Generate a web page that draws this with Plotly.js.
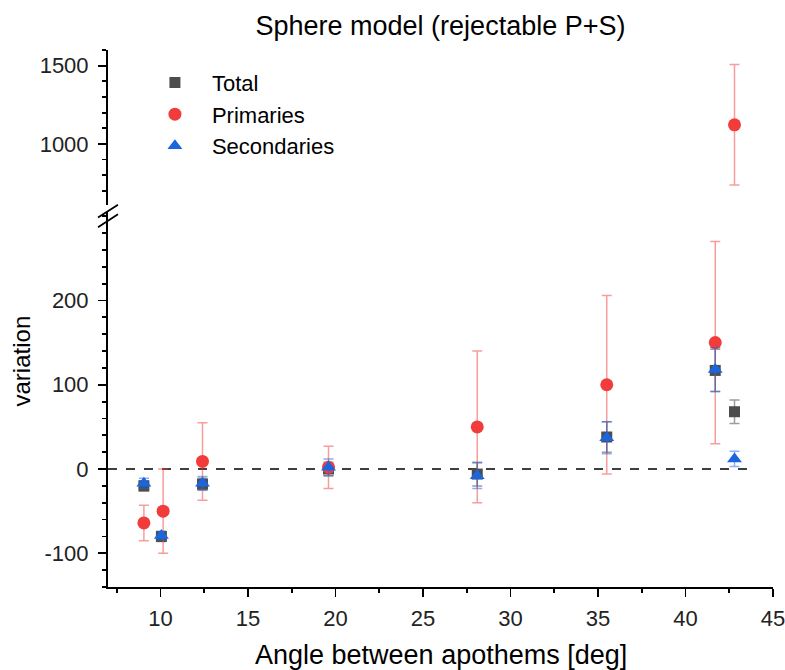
<!DOCTYPE html>
<html>
<head>
<meta charset="utf-8">
<script src="https://cdn.plot.ly/plotly-3.0.1.min.js"></script>
<style>html,body{margin:0;padding:0;background:#fff;}#chart{width:785px;height:670px;}</style>
</head>
<body>
<div id="chart"></div>
<script>
// Data
const angles        = [9.05, 10.05, 12.4, 19.6, 28.1, 35.5, 41.7, 42.8];
const anglesPrim    = [9.05, 10.15, 12.4, 19.6, 28.1, 35.5, 41.7, 42.8];
const totalVals     = [-20, -80, -18, 0, -6, 38, 117, 68];
const totalErr      = [6, 6, 7, 8, 14, 18, 25, 14];
const primVals      = [-64, -50, 9, 2, 50, 100, 150, 1122];
const primErr       = [21, 50, 46, 25, 90, 106, 120, 385];
const secVals       = [-17, -79, -17, 2, -8, 37, 118, 12];
const secErr        = [6, 5, 8, 10, 15, 19, 26, 9];
const xTickVals     = [10, 15, 20, 25, 30, 35, 40, 45];
const lowerTicks    = [-100, 0, 100, 200];
const upperTicks    = [1000, 1500];

const lowerRange = [-140, 305];
const upperRange = [610, 1600];

const FONT = 'Liberation Sans, Arial, sans-serif';
const cTotal = '#4d4d4d', cPrim = '#f23c3c', cSec = '#1a66de';

function split(xs, ys, es, upper) {
  const o = {x: [], y: [], e: []};
  ys.forEach((v, i) => {
    const isUp = v > lowerRange[1];
    if (isUp === upper) { o.x.push(xs[i]); o.y.push(v); o.e.push(es[i]); }
  });
  return o;
}

function tr(name, xs, ys, es, color, errColor, symbol, size, upper, showlegend) {
  const d = split(xs, ys, es, upper);
  return {
    type: 'scatter', mode: 'markers', name: name,
    x: d.x, y: d.y, yaxis: upper ? 'y2' : 'y',
    showlegend: showlegend,
    marker: {color: color, symbol: symbol, size: size, line: {width: 0}},
    error_y: {type: 'data', array: d.e, visible: true, color: errColor, thickness: 1.5, width: 5}
  };
}

const traces = [
  tr('Total', angles, totalVals, totalErr, cTotal, 'rgba(77,77,77,0.55)', 'square', 11, false, true),
  tr('Primaries', anglesPrim, primVals, primErr, cPrim, 'rgba(242,60,60,0.5)', 'circle', 13, false, true),
  tr('Secondaries', angles, secVals, secErr, cSec, 'rgba(26,102,222,0.5)', 'triangle-up', 13, false, true),
  tr('Total', angles, totalVals, totalErr, cTotal, 'rgba(77,77,77,0.55)', 'square', 11, true, false),
  tr('Primaries', anglesPrim, primVals, primErr, cPrim, 'rgba(242,60,60,0.5)', 'circle', 13, true, false),
  tr('Secondaries', angles, secVals, secErr, cSec, 'rgba(26,102,222,0.5)', 'triangle-up', 13, true, false)
];

const axisCommon = {
  showgrid: false, zeroline: false, showline: true, linecolor: '#000', linewidth: 2,
  ticks: 'outside', ticklen: 8, tickwidth: 1.8, tickcolor: '#000',
  tickfont: {family: FONT, size: 22, color: '#222'},
  ticklabeloverflow: 'allow'
};

const layout = {
  width: 785, height: 670,
  margin: {l: 108, r: 12, t: 50, b: 83},
  paper_bgcolor: '#fff', plot_bgcolor: '#fff',
  font: {family: FONT, color: '#000'},
  title: {text: 'Sphere model (rejectable P+S)', font: {family: FONT, size: 27, color: '#000'},
          xref: 'paper', x: 0.5, xanchor: 'center', yref: 'container', y: 0.962, yanchor: 'middle'},
  xaxis: Object.assign({}, axisCommon, {
    range: [7, 45], tickvals: xTickVals, ticktext: xTickVals.map(String),
    ticklabelstandoff: 3,
    minor: {dtick: 2.5, tick0: 7.5, ticklen: 4, tickwidth: 1.8, tickcolor: '#000', ticks: 'outside'},
    anchor: 'y'
  }),
  yaxis: Object.assign({}, axisCommon, {
    range: lowerRange, domain: [0, 0.6983], tickvals: lowerTicks, ticktext: lowerTicks.map(String),
    ticklabelstandoff: 5,
    minor: {dtick: 20, tick0: 0, ticklen: 4, tickwidth: 1.8, tickcolor: '#000', ticks: 'outside'},
    anchor: 'x'
  }),
  yaxis2: Object.assign({}, axisCommon, {
    range: upperRange, domain: [0.7114, 1], tickvals: upperTicks, ticktext: upperTicks.map(String),
    ticklabelstandoff: 5,
    minor: {dtick: 100, tick0: 0, ticklen: 4, tickwidth: 1.8, tickcolor: '#000', ticks: 'outside'},
    anchor: 'x'
  }),
  legend: {
    x: 0.045, y: 0.978, xanchor: 'left', yanchor: 'top',
    bgcolor: 'rgba(0,0,0,0)', borderwidth: 0,
    font: {family: FONT, size: 22, color: '#000'},
    itemwidth: 64
  },
  shapes: [
    {type: 'line', xref: 'x', yref: 'y', x0: 7, x1: 43.6, y0: 0, y1: 0,
     line: {color: '#000', width: 1.5, dash: 'dash'}, layer: 'below'},
    {type: 'line', xref: 'paper', yref: 'paper', x0: -0.015, x1: 0.015, y0: 0.688, y1: 0.712,
     line: {color: '#000', width: 1.8}},
    {type: 'line', xref: 'paper', yref: 'paper', x0: -0.015, x1: 0.015, y0: 0.670, y1: 0.694,
     line: {color: '#000', width: 1.8}}
  ],
  annotations: [
    {text: 'variation', xref: 'paper', yref: 'paper', x: -0.13, y: 0.421, showarrow: false,
     textangle: -90, font: {family: FONT, size: 24, color: '#000'}, xanchor: 'center', yanchor: 'middle'},
    {text: 'Angle between apothems [deg]', xref: 'paper', yref: 'paper', x: 0.5, y: -0.127, showarrow: false,
     font: {family: FONT, size: 27, color: '#000'}, xanchor: 'center', yanchor: 'middle'}
  ]
};

Plotly.newPlot('chart', traces, layout, {displayModeBar: false, staticPlot: true});
</script>
</body>
</html>
